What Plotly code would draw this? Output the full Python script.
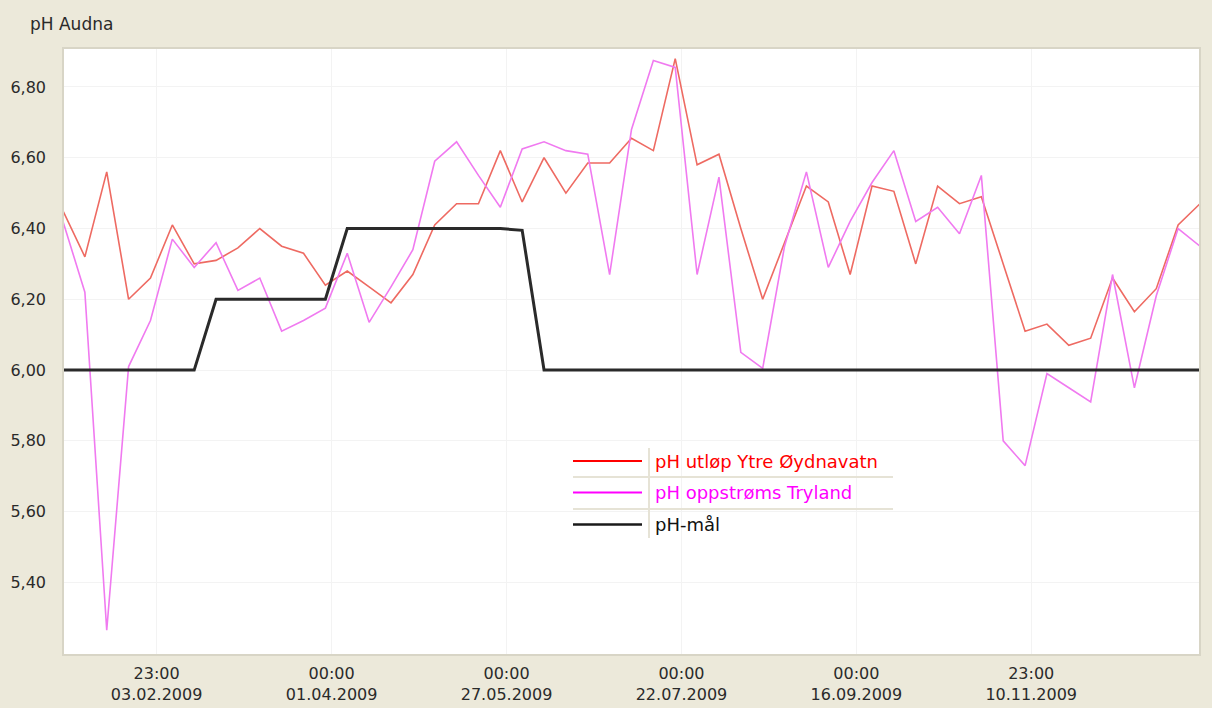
import plotly.graph_objects as go

# ---------------- data ----------------
dates = [
    "2009-01-05", "2009-01-12", "2009-01-19", "2009-01-26", "2009-02-02", "2009-02-09",
    "2009-02-16", "2009-02-23", "2009-03-02", "2009-03-09", "2009-03-16", "2009-03-23",
    "2009-03-30", "2009-04-06", "2009-04-13", "2009-04-20", "2009-04-27", "2009-05-04",
    "2009-05-11", "2009-05-18", "2009-05-25", "2009-06-01", "2009-06-08", "2009-06-15",
    "2009-06-22", "2009-06-29", "2009-07-06", "2009-07-13", "2009-07-20", "2009-07-27",
    "2009-08-03", "2009-08-10", "2009-08-17", "2009-08-24", "2009-08-31", "2009-09-07",
    "2009-09-14", "2009-09-21", "2009-09-28", "2009-10-05", "2009-10-12", "2009-10-19",
    "2009-10-26", "2009-11-02", "2009-11-09", "2009-11-16", "2009-11-23", "2009-11-30",
    "2009-12-07", "2009-12-14", "2009-12-21", "2009-12-28", "2010-01-04",
]

ph_utlop_ytre_oydnavatn = [
    6.45, 6.32, 6.56, 6.20, 6.26, 6.41, 6.30, 6.31, 6.345, 6.40,
    6.35, 6.33, 6.24, 6.28, 6.235, 6.19, 6.27, 6.41, 6.47, 6.47,
    6.62, 6.475, 6.60, 6.50, 6.585, 6.585, 6.655, 6.62, 6.88, 6.58,
    6.61, 6.40, 6.20, 6.36, 6.52, 6.475, 6.27, 6.52, 6.505, 6.30,
    6.52, 6.47, 6.49, 6.30, 6.11, 6.13, 6.07, 6.09, 6.26, 6.165,
    6.23, 6.41, 6.47,
]

ph_oppstroms_tryland = [
    6.42, 6.22, 5.265, 6.01, 6.14, 6.37, 6.29, 6.36, 6.225, 6.26,
    6.11, 6.14, 6.175, 6.33, 6.135, 6.235, 6.34, 6.59, 6.645, 6.55,
    6.46, 6.625, 6.645, 6.62, 6.61, 6.27, 6.68, 6.875, 6.855, 6.27,
    6.545, 6.05, 6.005, 6.35, 6.56, 6.29, 6.42, 6.53, 6.62, 6.42,
    6.46, 6.385, 6.55, 5.80, 5.73, 5.99, 5.95, 5.91, 6.27, 5.95,
    6.21, 6.40, 6.35,
]

ph_maal = [
    6.0, 6.0, 6.0, 6.0, 6.0, 6.0, 6.0, 6.2, 6.2, 6.2,
    6.2, 6.2, 6.2, 6.4, 6.4, 6.4, 6.4, 6.4, 6.4, 6.4,
    6.4, 6.395, 6.0, 6.0, 6.0, 6.0, 6.0, 6.0, 6.0, 6.0,
    6.0, 6.0, 6.0, 6.0, 6.0, 6.0, 6.0, 6.0, 6.0, 6.0,
    6.0, 6.0, 6.0, 6.0, 6.0, 6.0, 6.0, 6.0, 6.0, 6.0,
    6.0, 6.0, 6.0,
]

series_names = ["pH utløp Ytre Øydnavatn", "pH oppstrøms Tryland", "pH-mål"]

x_tick_vals = ["2009-02-03 23:00", "2009-04-01 00:00", "2009-05-27 00:00",
               "2009-07-22 00:00", "2009-09-16 00:00", "2009-11-10 23:00"]
x_tick_text = ["23:00<br>03.02.2009", "00:00<br>01.04.2009", "00:00<br>27.05.2009",
               "00:00<br>22.07.2009", "00:00<br>16.09.2009", "23:00<br>10.11.2009"]

y_tick_vals = [5.4, 5.6, 5.8, 6.0, 6.2, 6.4, 6.6, 6.8]
y_tick_text = ["5,40", "5,60", "5,80", "6,00", "6,20", "6,40", "6,60", "6,80"]

title_text = "pH Audna"

# ---------------- styling ----------------
W, H = 1212, 708
L, R, T, B = 63, 1200, 48, 655
FONT = "DejaVu Sans"
line_colors = ["#EE6A62", "#F07AF0", "#2A2A2A"]
line_widths = [1.6, 1.6, 3]
legend_line_colors = ["#FF0000", "#FF00FF", "#1A1A1A"]
legend_text_colors = ["#FF0000", "#FF00FF", "#111111"]


def px(xp):
    return (xp - L) / (R - L)


def py(yp):
    return (B - yp) / (B - T)


fig = go.Figure()
for name, vals, c, w in zip(series_names,
                            [ph_utlop_ytre_oydnavatn, ph_oppstroms_tryland, ph_maal],
                            line_colors, line_widths):
    fig.add_trace(go.Scatter(x=dates, y=vals, mode="lines", name=name,
                             line=dict(color=c, width=w), hoverinfo="x+y+name"))

fig.update_layout(
    width=W, height=H,
    margin=dict(l=L, r=W - R, t=T, b=H - B, pad=0, autoexpand=False),
    paper_bgcolor="#ECE9DA",
    plot_bgcolor="#FFFFFF",
    showlegend=False,
    font=dict(family=FONT, size=16, color="#2A2A2A"),
)

fig.update_xaxes(
    type="date",
    range=[dates[0], dates[-1]],
    tickvals=x_tick_vals, ticktext=x_tick_text,
    showgrid=True, gridcolor="#F3F3F3", gridwidth=1,
    zeroline=False, showline=False, automargin=False,
    ticks="", ticklabelstandoff=7,
    tickfont=dict(family=FONT, size=16, color="#2A2A2A"),
)
fig.update_yaxes(
    range=[5.195, 6.91],
    tickvals=y_tick_vals, ticktext=y_tick_text,
    showgrid=True, gridcolor="#F3F3F3", gridwidth=1,
    zeroline=False, showline=False, automargin=False,
    ticks="", ticklabelstandoff=16,
    tickfont=dict(family=FONT, size=16, color="#2A2A2A"),
)

shapes = []
annotations = []

# plot-area bevel border
shapes.append(dict(type="rect", xref="paper", yref="paper", x0=0, x1=1, y0=0, y1=1,
                   line=dict(color="#D8D5C6", width=2), layer="above"))

# title
annotations.append(dict(text=title_text, xref="paper", yref="paper",
                        x=px(28), y=py(24), xanchor="left", yanchor="middle",
                        showarrow=False, font=dict(family=FONT, size=17, color="#2A2A2A")))

# custom legend
row_y = [461, 492.5, 524.5]
sep_color = "#E6E3D6"
shapes.append(dict(type="line", xref="paper", yref="paper", x0=px(649), x1=px(649),
                   y0=py(448), y1=py(538), line=dict(color=sep_color, width=2)))
for ys in [477, 509]:
    shapes.append(dict(type="line", xref="paper", yref="paper", x0=px(573), x1=px(893),
                       y0=py(ys), y1=py(ys), line=dict(color=sep_color, width=2)))
for name, yrow, lc, tc, lw in zip(series_names, row_y, legend_line_colors,
                                  legend_text_colors, [2, 2, 2.5]):
    shapes.append(dict(type="line", xref="paper", yref="paper", x0=px(573), x1=px(642),
                       y0=py(yrow), y1=py(yrow), line=dict(color=lc, width=lw)))
    annotations.append(dict(text=name, xref="paper", yref="paper", x=px(653), y=py(yrow),
                            xanchor="left", yanchor="middle", showarrow=False,
                            font=dict(family=FONT, size=18, color=tc)))

fig.update_layout(shapes=shapes, annotations=annotations)

fig.write_html("out.html", config={"displayModeBar": False},
               post_script="document.body.style.margin='0';document.body.style.overflow='hidden';")
